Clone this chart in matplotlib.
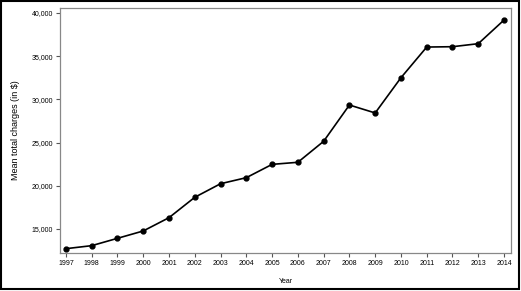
import matplotlib
matplotlib.use("Agg")
import matplotlib.pyplot as plt
from matplotlib.patches import Rectangle
from matplotlib.ticker import FuncFormatter

years = [1997, 1998, 1999, 2000, 2001, 2002, 2003, 2004, 2005,
         2006, 2007, 2008, 2009, 2010, 2011, 2012, 2013, 2014]
charges = [12720, 13070, 13920, 14770, 16310, 18670, 20240, 20940, 22480,
           22720, 25150, 29350, 28430, 32510, 36060, 36100, 36450, 39190]
yticks = [15000, 20000, 25000, 30000, 35000, 40000]

plt.rcParams["font.family"] = ["Liberation Sans", "DejaVu Sans"]

fig = plt.figure(figsize=(5.21, 2.91), dpi=100)
ax = fig.add_axes([60/521, 1 - 253/291, 451/521, 245/291])

ax.plot(years, charges, color="black", lw=1.2, marker="o", ms=3.5)

ax.set_xlim(1996.77, 2014.27)
ax.set_ylim(12220, 40580)
ax.set_xticks(years)
ax.set_yticks(yticks)
ax.yaxis.set_major_formatter(FuncFormatter(lambda v, p: "{:,.0f}".format(v)))

for s in ax.spines.values():
    s.set_color("#888888")
    s.set_linewidth(0.9)
ax.tick_params(direction="out", length=3, width=0.8, color="#555555",
               labelsize=5, pad=2)
ax.set_xlabel("Year", fontsize=5, labelpad=8)
ax.set_ylabel("Mean total charges (in $)", fontsize=6.5, labelpad=8)

fig.patches.append(Rectangle((0.002, 0.008), 0.994, 0.988, transform=fig.transFigure,
                             fill=False, edgecolor="black", lw=1.5))

fig.savefig("out.png", dpi=100)
